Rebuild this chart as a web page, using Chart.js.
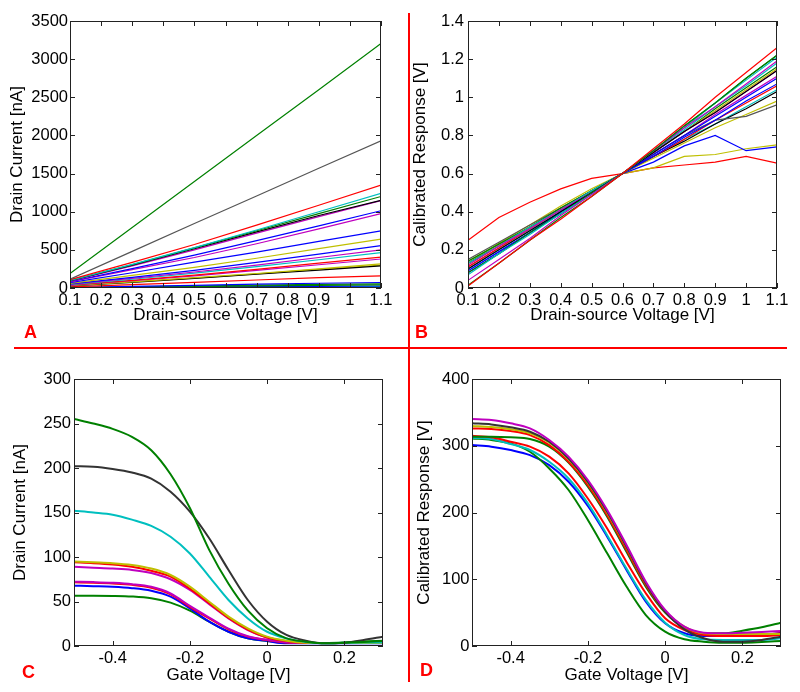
<!DOCTYPE html>
<html>
<head>
<meta charset="utf-8">
<script src="https://cdn.jsdelivr.net/npm/chart.js@4.4.1/dist/chart.umd.min.js"></script>
<style>
  body { margin: 0; background: #fff; }
  #page { position: relative; width: 800px; height: 692px; overflow: hidden; background: #fff; }
  canvas { position: absolute; }
  .rule { position: absolute; background: #ff0000; }
  .letter { position: absolute; color: #ff0000; font: bold 18px "Liberation Sans", Arial, sans-serif; line-height: 18px; }
</style>
</head>
<body>
<div id="page">
  <canvas id="chartA" width="400" height="335" style="left:0;top:0"></canvas>
  <canvas id="chartB" width="400" height="335" style="left:400px;top:0"></canvas>
  <canvas id="chartC" width="400" height="342" style="left:0;top:350px"></canvas>
  <canvas id="chartD" width="400" height="342" style="left:400px;top:350px"></canvas>
  <div class="rule" style="left:408px;top:13px;width:2px;height:669px"></div>
  <div class="rule" style="left:14px;top:347px;width:773px;height:2px"></div>
  <div class="letter" style="left:24px;top:323px">A</div>
  <div class="letter" style="left:415px;top:323px">B</div>
  <div class="letter" style="left:22px;top:663px">C</div>
  <div class="letter" style="left:420px;top:661px">D</div>
</div>
<script>
// matplotlib classic colours
const B = '#0000ff', G = '#008000', R = '#ff0000', C = '#00bfbf', M = '#bf00bf', Y = '#bfbf00', K = '#000000';

// ---- panel A: drain current vs drain-source voltage
const voltsA = [0.1, 0.3, 0.5, 0.7, 0.9, 1.1];
const ticksAx = [0.1, 0.2, 0.3, 0.4, 0.5, 0.6, 0.7, 0.8, 0.9, 1, 1.1];
const ticksAy = [0, 500, 1000, 1500, 2000, 2500, 3000, 3500];
const colorsA = [G, '#555555', R, C, G, K, M, B, M, B, Y, B, M, C, R, M, Y, K, Y, R, B, G, G, B, C, Y];
const currentA = [
  [190, 793, 1396, 1999, 2600, 3205],
  [115, 480, 845, 1205, 1570, 1930],
  [110, 335, 570, 825, 1085, 1350],
  [100, 310, 530, 760, 1000, 1240],
  [100, 305, 525, 750, 975, 1200],
  [95, 300, 515, 735, 950, 1150],
  [90, 290, 500, 720, 935, 1145],
  [85, 255, 430, 620, 815, 1013],
  [80, 240, 400, 580, 775, 975],
  [70, 200, 340, 470, 610, 750],
  [60, 165, 270, 390, 515, 640],
  [55, 140, 230, 335, 445, 555],
  [50, 125, 210, 300, 400, 500],
  [45, 115, 195, 280, 370, 465],
  [40, 100, 170, 245, 325, 405],
  [35, 95, 160, 230, 305, 380],
  [30, 80, 135, 190, 250, 315],
  [28, 75, 125, 180, 235, 290],
  [32, 80, 130, 185, 245, 300],
  [15, 45, 75, 105, 135, 160],
  [5, 20, 35, 50, 62, 72],
  [4, 15, 26, 37, 47, 55],
  [3, 11, 19, 27, 34, 40],
  [2, 7, 12, 17, 22, 26],
  [2, 5, 8, 12, 15, 18],
  [1, 3, 5, 7, 8, 10]
];

// ---- panel B: calibrated response vs drain-source voltage
const voltsB = [0.1, 0.2, 0.3, 0.4, 0.5, 0.6, 0.7, 0.8, 0.9, 1.0, 1.1];
const ticksBy = [0, 0.2, 0.4, 0.6, 0.8, 1, 1.2, 1.4];
const colorsB = [R, G, M, C, G, K, B, B, M, C, Y, G, '#555555', Y, R, K, C, M, B, Y, R];
const responseB = [
  [0.01, 0.13, 0.25, 0.36, 0.48, 0.6, 0.73, 0.86, 1.0, 1.13, 1.26],
  [0.015, 0.13, 0.25, 0.37, 0.48, 0.6, 0.72, 0.85, 0.97, 1.1, 1.22],
  [0.04, 0.15, 0.26, 0.38, 0.49, 0.6, 0.72, 0.84, 0.95, 1.07, 1.19],
  [0.07, 0.18, 0.28, 0.39, 0.49, 0.6, 0.72, 0.84, 0.97, 1.09, 1.21],
  [0.08, 0.18, 0.29, 0.39, 0.5, 0.6, 0.72, 0.85, 0.97, 1.1, 1.22],
  [0.1, 0.2, 0.3, 0.4, 0.5, 0.6, 0.71, 0.82, 0.92, 1.03, 1.14],
  [0.09, 0.19, 0.29, 0.4, 0.5, 0.6, 0.7, 0.8, 0.9, 1.0, 1.1],
  [0.08, 0.18, 0.29, 0.39, 0.5, 0.6, 0.69, 0.79, 0.88, 0.98, 1.07],
  [0.12, 0.22, 0.31, 0.41, 0.5, 0.6, 0.71, 0.82, 0.92, 1.03, 1.14],
  [0.13, 0.22, 0.32, 0.41, 0.51, 0.6, 0.72, 0.83, 0.95, 1.06, 1.18],
  [0.12, 0.22, 0.31, 0.41, 0.5, 0.6, 0.71, 0.82, 0.93, 1.04, 1.15],
  [0.14, 0.23, 0.32, 0.42, 0.51, 0.6, 0.71, 0.82, 0.94, 1.05, 1.16],
  [0.15, 0.24, 0.33, 0.42, 0.51, 0.6, 0.7, 0.8, 0.88, 0.9, 0.96],
  [0.14, 0.23, 0.32, 0.42, 0.51, 0.6, 0.68, 0.76, 0.84, 0.91, 0.98],
  [0.11, 0.21, 0.31, 0.41, 0.5, 0.6, 0.69, 0.78, 0.88, 0.97, 1.06],
  [0.13, 0.22, 0.32, 0.41, 0.51, 0.6, 0.69, 0.77, 0.86, 0.94, 1.03],
  [0.1, 0.2, 0.3, 0.4, 0.5, 0.6, 0.69, 0.78, 0.86, 0.95, 1.04],
  [0.11, 0.21, 0.31, 0.41, 0.5, 0.6, 0.7, 0.8, 0.91, 1.01, 1.11],
  [0.09, 0.19, 0.29, 0.4, 0.5, 0.6, 0.66, 0.745, 0.8, 0.72, 0.74],
  [0.13, 0.235, 0.33, 0.43, 0.52, 0.6, 0.63, 0.69, 0.7, 0.73, 0.75],
  [0.25, 0.37, 0.45, 0.52, 0.575, 0.6, 0.63, 0.645, 0.66, 0.69, 0.655]
];

// ---- panels C and D: gate sweeps
const gateV = [-0.5, -0.45, -0.4, -0.35, -0.3, -0.25, -0.2, -0.15, -0.1, -0.05, 0, 0.05, 0.1, 0.15, 0.2, 0.25, 0.3];
const ticksGx = [-0.4, -0.2, 0, 0.2];
const ticksCy = [0, 50, 100, 150, 200, 250, 300];
const colorsC = [G, '#333333', C, Y, R, M, M, R, B, G];
const currentC = [
  [255, 250, 244, 235, 220, 193, 155, 108, 70, 40, 20, 8.6, 4.9, 3, 3.7, 4.5, 5.6],
  [202, 201.5, 199, 195, 188, 173.4, 151, 121, 85.4, 51.7, 27.3, 12.4, 6, 3, 3.7, 6.7, 10.5],
  [152, 150, 147.5, 142, 135, 122.8, 104, 78, 51.7, 31, 16, 8.6, 4.5, 3, 3.7, 4, 4],
  [95, 94, 93, 91, 87, 79.8, 66.7, 49.8, 33, 19.9, 10.5, 6, 3.7, 3.5, 3.5, 3.5, 3.5],
  [94, 93, 91.5, 89, 84.5, 78, 64.5, 48, 31.5, 18.5, 9.5, 5.5, 3.4, 3.4, 3.4, 3.4, 3.4],
  [89, 88, 87, 85.5, 82, 75, 63, 47, 31, 18, 9.5, 5, 3.5, 3.5, 3.5, 3.5, 3.5],
  [72.3, 71.8, 71, 69.5, 66.5, 59, 45, 32, 19.5, 11, 7, 4.2, 3.5, 3.5, 3.5, 3.5, 3.5],
  [71.5, 71, 70.2, 68.8, 65.5, 58, 44, 31, 18.7, 10.5, 6.7, 4, 3.5, 3.5, 3.5, 3.5, 3.5],
  [67.8, 67.2, 66.5, 65, 62, 55.4, 42.3, 27.3, 16, 8.6, 5.6, 3, 3, 3, 3, 3, 3],
  [56.5, 56.5, 56.3, 55.6, 53.6, 48.7, 39.7, 27.3, 16, 8.6, 5.6, 3.7, 3.5, 3.5, 4, 5, 6]
];
const ticksDy = [0, 100, 200, 300, 400];
const colorsD = [M, '#333333', Y, R, G, R, C, G, B];
const responseD = [
  [340, 338.6, 333.6, 326, 308.6, 283.7, 248.7, 203.8, 151.3, 96.4, 54, 29, 20, 19, 20, 21, 22.5],
  [333.6, 332, 327.6, 321, 306, 281, 246, 201, 148.8, 94, 51.4, 25, 11.5, 6.5, 6.5, 9, 14],
  [329.6, 328, 324.6, 318.6, 304.6, 279.7, 244.7, 199.8, 147.8, 94, 53, 29, 19, 18, 18, 18, 18],
  [326, 325, 322, 316, 301, 276, 241, 196, 144, 91.4, 51.4, 28, 18, 16.5, 16.5, 17, 19],
  [313.6, 313.6, 312.6, 310, 298.6, 274.7, 238.7, 193.8, 141, 89, 50, 28, 19, 19, 23, 28, 35],
  [315, 312.6, 306, 298.6, 283.7, 258.7, 221, 176, 126, 79, 41.5, 24, 16.5, 15, 15, 15, 16.5],
  [312, 310, 302.6, 293.6, 276, 251, 213.7, 166, 116, 69, 35, 16.5, 10, 9, 9, 9, 11.5],
  [311, 308.6, 303.6, 291, 266, 233.7, 188.8, 138.8, 89, 46.4, 21.5, 10, 6.5, 5, 5, 6, 7.5],
  [301, 298.6, 293.6, 286, 271, 246, 209.7, 163.8, 114, 66.4, 34, 19, 15, 15, 15, 16, 20]
];

Chart.defaults.font.family = '"Liberation Sans", Arial, Helvetica, sans-serif';
Chart.defaults.color = '#000';

// box round the axes with inward ticks on all four sides, like matplotlib classic
const frameBox = {
  id: 'frameBox',
  afterDatasetsDraw(chart) {
    const { ctx, chartArea: a, scales: { x, y } } = chart;
    ctx.save();
    ctx.strokeStyle = '#222';
    ctx.lineWidth = 1;
    ctx.beginPath();
    x.ticks.forEach(t => {
      const px = Math.round(x.getPixelForValue(t.value)) + 0.5;
      ctx.moveTo(px, a.bottom); ctx.lineTo(px, a.bottom - 5);
      ctx.moveTo(px, a.top); ctx.lineTo(px, a.top + 5);
    });
    y.ticks.forEach(t => {
      const py = Math.round(y.getPixelForValue(t.value)) + 0.5;
      ctx.moveTo(a.left, py); ctx.lineTo(a.left + 5, py);
      ctx.moveTo(a.right, py); ctx.lineTo(a.right - 5, py);
    });
    ctx.stroke();
    ctx.strokeRect(Math.round(a.left) + 0.5, Math.round(a.top) + 0.5,
      Math.round(a.right - a.left) - 1, Math.round(a.bottom - a.top) - 1);
    ctx.restore();
  }
};

function makeDatasets(xs, series, colors, width, smooth) {
  return series.map((vals, i) => ({
    data: vals.map((v, j) => ({ x: xs[j], y: v })),
    borderColor: colors[i],
    borderWidth: width,
    pointRadius: 0,
    fill: false,
    cubicInterpolationMode: smooth ? 'monotone' : 'default',
    tension: 0
  }));
}

function drawPanel(id, box, xAxis, yAxis, datasets) {
  const canvas = document.getElementById(id);
  new Chart(canvas, {
    type: 'line',
    data: { datasets: datasets },
    options: {
      responsive: false,
      animation: false,
      layout: { padding: { left: 0, top: box.top, right: canvas.width - box.right, bottom: 0 } },
      plugins: { legend: { display: false }, tooltip: { enabled: false } },
      scales: {
        x: {
          type: 'linear', min: xAxis.min, max: xAxis.max,
          afterBuildTicks: s => { s.ticks = xAxis.ticks.map(v => ({ value: v })); },
          afterFit: s => { s.height = canvas.height - box.bottom; },
          grid: { display: false, drawTicks: false }, border: { display: false },
          ticks: { autoSkip: false, maxRotation: 0, minRotation: 0, padding: box.xPad, font: { size: 16.5 }, callback: v => String(v) },
          title: { display: true, text: xAxis.title, font: { size: 17 }, padding: { top: 0, bottom: box.xTitle } }
        },
        y: {
          type: 'linear', min: yAxis.min, max: yAxis.max,
          afterBuildTicks: s => { s.ticks = yAxis.ticks.map(v => ({ value: v })); },
          afterFit: s => { s.width = box.left; },
          grid: { display: false, drawTicks: false }, border: { display: false },
          ticks: { autoSkip: false, padding: box.yPad, font: { size: 16.5 }, callback: v => String(v) },
          title: { display: true, text: yAxis.title, font: { size: 17 }, padding: { top: box.yTitle, bottom: 0 } }
        }
      }
    },
    plugins: [frameBox]
  });
}

drawPanel('chartA',
  { left: 70, top: 21, right: 381, bottom: 288, xPad: 3, yPad: 2, xTitle: 9.8, yTitle: 6.8 },
  { min: 0.1, max: 1.1, ticks: ticksAx, title: 'Drain-source Voltage [V]' },
  { min: 0, max: 3500, ticks: ticksAy, title: 'Drain Current [nA]' },
  makeDatasets(voltsA, currentA, colorsA, 1.2, false));

drawPanel('chartB',
  { left: 68, top: 21, right: 377, bottom: 288, xPad: 3, yPad: 4, xTitle: 9.8, yTitle: 10.5 },
  { min: 0.1, max: 1.1, ticks: ticksAx, title: 'Drain-source Voltage [V]' },
  { min: 0, max: 1.4, ticks: ticksBy, title: 'Calibrated Response [V]' },
  makeDatasets(voltsB, responseB, colorsB, 1.2, false));

drawPanel('chartC',
  { left: 74, top: 29, right: 383, bottom: 296, xPad: 3, yPad: 3, xTitle: 6.3, yTitle: 9.8 },
  { min: -0.5, max: 0.3, ticks: ticksGx, title: 'Gate Voltage [V]' },
  { min: 0, max: 300, ticks: ticksCy, title: 'Drain Current [nA]' },
  makeDatasets(gateV, currentC, colorsC, 2, true));

drawPanel('chartD',
  { left: 72, top: 29, right: 381, bottom: 296, xPad: 3, yPad: 2.5, xTitle: 6.3, yTitle: 13.8 },
  { min: -0.5, max: 0.3, ticks: ticksGx, title: 'Gate Voltage [V]' },
  { min: 0, max: 400, ticks: ticksDy, title: 'Calibrated Response [V]' },
  makeDatasets(gateV, responseD, colorsD, 2, true));
</script>
</body>
</html>
